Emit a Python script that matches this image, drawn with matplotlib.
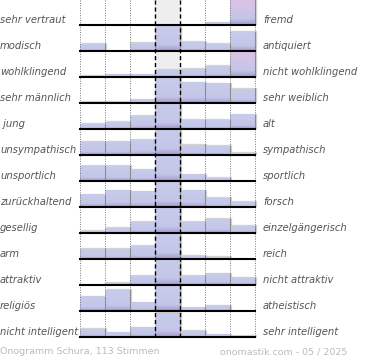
import numpy as np
import matplotlib
matplotlib.use('Agg')
import matplotlib.pyplot as plt

# left / right adjectives of each scale
left_labels = ['sehr vertraut', 'modisch', 'wohlklingend', 'sehr männlich', ' jung',
               'unsympathisch', 'unsportlich', 'zurückhaltend', 'gesellig', 'arm',
               'attraktiv', 'religiös', 'nicht intelligent']
right_labels = ['fremd', 'antiquiert', 'nicht wohlklingend', 'sehr weiblich', 'alt',
                'sympathisch', 'sportlich', 'forsch', 'einzelgängerisch', 'reich',
                'nicht attraktiv', 'atheistisch', 'sehr intelligent']

# bar heights per scale, 7 steps (25 = full row, larger gets cut)
votes = [
    [0, 0, 0, 0, 0, 2.5, 30],
    [6.7, 0, 8, 30, 8.7, 6.7, 19.3],
    [1, 2.5, 2.5, 7, 8, 11, 30],
    [1, 1, 3.4, 30, 20.4, 19.4, 14],
    [5, 6.6, 13, 30, 9, 9, 14.3],
    [13.3, 13.3, 14.6, 30, 10, 8.6, 2],
    [14.6, 14.6, 11.3, 30, 6.3, 3, 0],
    [12.3, 16.3, 15.3, 30, 16.3, 9, 5],
    [2, 4.7, 11, 30, 11, 13.7, 6.7],
    [9.7, 9.7, 13, 30, 3, 1.7, 0],
    [0, 2, 8.7, 30, 8.7, 11.3, 7.4],
    [14.4, 20.7, 8.4, 30, 3.4, 5.4, 0],
    [8, 4.4, 9.4, 23.7, 5.7, 2.4, 0.7],
]
# bars drawn with the pink top
pink = [(0, 6), (2, 6)]

fig = plt.figure(figsize=(3.7, 3.6), dpi=100)
ax = fig.add_axes([0, 0, 1, 1])
ax.set_xlim(0, 370)
ax.set_ylim(360, 0)
ax.axis('off')

x0 = 79.5
w = 25
top0 = 25
pitch = 26
n = len(votes)
bottom_all = top0 + pitch * (n - 1)

# grey background of the middle column
ax.add_patch(plt.Rectangle((x0 + 3 * w, 0), w, bottom_all, color='#eeeeee', zorder=0))


def gradient(c_top, c_mid, c_bot):
    c_top, c_mid, c_bot = [np.array(matplotlib.colors.to_rgb(c)) for c in (c_top, c_mid, c_bot)]
    t = np.linspace(0, 1, 40)[:, None]
    g = np.where(t < 0.75, c_top + (c_mid - c_top) * (t / 0.75), c_mid + (c_bot - c_mid) * ((t - 0.75) / 0.25))
    return g[:, None, :]


blue = gradient('#c8cceb', '#c3c6e8', '#a596d0')
rose = gradient('#dcc2e3', '#c3c6e8', '#a596d0')

for i, row in enumerate(votes):
    base = top0 + pitch * i
    for j, v in enumerate(row):
        h = min(v, 25)
        if h <= 0:
            continue
        left = x0 + j * w
        # shadow
        ax.add_patch(plt.Rectangle((left + 1, base - h - 1), w, h, color='#c4c4c4', alpha=0.6, zorder=1))
        img = rose if (i, j) in pink else blue
        ax.imshow(img, extent=(left, left + w, base, base - h), aspect='auto', zorder=2,
                  interpolation='bilinear')
        ax.plot([left + w, left + w], [base, base - h], color='#999999', lw=0.8, zorder=3)
    ax.plot([x0, x0 + 7 * w], [base, base], color='black', lw=1.5, zorder=5)
    ax.text(0, base - 5, left_labels[i], ha='left', va='center', fontsize=7.2,
            style='italic', color='#555555')
    ax.text(263, base - 5, right_labels[i], ha='left', va='center', fontsize=7.2,
            style='italic', color='#555555')

# column lines
for j in range(8):
    xx = x0 + j * w
    if j in (3, 4):
        ax.plot([xx, xx], [0, bottom_all], color='black', lw=1.0, ls=(0, (3, 2)), zorder=4)
    else:
        ax.plot([xx, xx], [0, bottom_all], color='#777777', lw=0.7, ls=(0, (1, 1.5)), zorder=4)

ax.text(0, 352, 'Onogramm Schura, 113 Stimmen', ha='left', va='center', fontsize=6.8, color='#bbbbbb')
ax.text(347, 352, 'onomastik.com - 05 / 2025', ha='right', va='center', fontsize=6.8, color='#bbbbbb')

plt.savefig('out.png', dpi=100)
